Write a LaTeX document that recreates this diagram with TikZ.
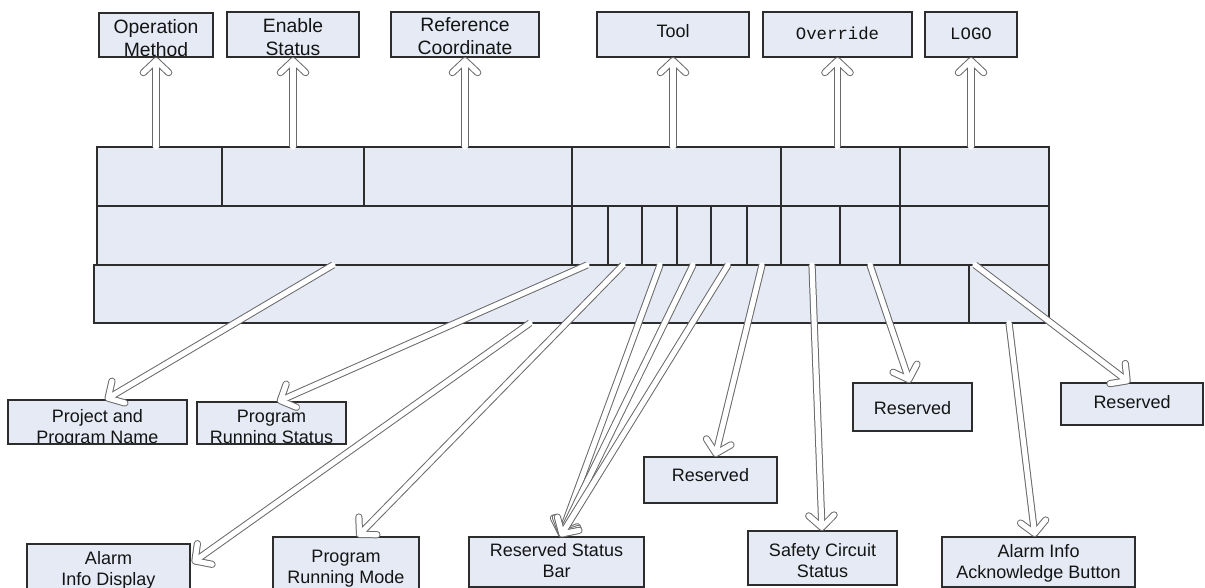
\documentclass[tikz,border=0pt]{standalone}
\usepackage{fontspec}
\setmainfont{Liberation Sans}
\newfontfamily\monof{Liberation Mono}
\usetikzlibrary{arrows.meta,calc}
\definecolor{boxfill}{RGB}{229,234,245}
\definecolor{edge}{RGB}{45,45,45}
\definecolor{arrgray}{RGB}{105,105,105}
\definecolor{txtc}{RGB}{20,20,20}
\newcommand\twol[2]{\vtop{\halign{\hfil##\hfil\cr#1\cr#2\cr}}}
\newcommand\bigtwol[2]{{\fontsize{14.5}{17}\selectfont\twol{#1}{#2}}}
\newcommand\mtext[1]{{\monof\fontsize{13}{15}\selectfont #1}}
\newcommand\bx[7]{%
  \node[box, anchor=north west,
    minimum width={(#4-#2)*0.75pt}, minimum height={(#5-#3)*0.75pt},
    path picture={\node[txt] (#1-t) at ($(path picture bounding box.north)+(0,#6)$) {#7};}]
    (#1) at (#2,#3) {};}
\tikzset{
  box/.style={draw=edge, fill=boxfill, line width=1.1pt, inner sep=0pt, outer sep=0pt},
  txt/.style={anchor=base, inner sep=0pt, outer sep=0pt, text=txtc, font=\fontsize{13.5}{16}\selectfont},
  barline/.style={draw=edge, line width=1pt},
  arr/.style={draw=white, line width=3.9pt, line cap=round,
    -{Straight Barb[length=9pt,width=19pt,round]}, shorten >=0.75pt,
    preaction={draw=arrgray, line width=5.4pt, shorten >=0pt}}
}
\begin{document}
\begin{tikzpicture}[x=0.75pt,y=-0.75pt]
\useasboundingbox (0,0) rectangle (1205,588);
% main bar
\fill[boxfill] (97,147) rectangle (1049,265);
\fill[boxfill] (94,265) rectangle (1049,323);
\draw[barline] (97,147) rectangle (1049,265);
\draw[barline] (94,265) rectangle (1049,323);
\draw[barline] (97,206) -- (1049,206);
\foreach \x in {222,364,572,781} \draw[barline] (\x,147) -- (\x,206);
\draw[draw=edge, line width=2pt] (900,147) -- (900,206);
\foreach \x in {572,608,642,677,711,747,781,840,900} \draw[barline] (\x,206) -- (\x,265);
\draw[barline] (969,265) -- (969,323);
\coordinate (bartop) at (97,147);
% top boxes
\bx{om}{99}{13}{213}{57}{21}{\bigtwol{Operation}{Method}}
\bx{es}{227}{12}{359}{57}{21}{\bigtwol{Enable}{Status}}
\bx{rc}{391}{12}{539}{57}{20}{\bigtwol{Reference}{Coordinate}}
\bx{tool}{597}{12}{749}{57}{26}{Tool}
\bx{ov}{763}{12}{912}{57}{28}{\mtext{Override}}
\bx{logo}{925}{12}{1017}{57}{28}{\mtext{LOGO}}
% bottom boxes
\bx{pn}{8}{400}{187}{444}{22}{\twol{Project and}{Program Name}}
\bx{prs}{197}{402}{346}{444}{20}{\twol{Program}{Running Status}}
\bx{aid}{27}{544}{190}{600}{20}{\twol{Alarm}{Info Display}}
\bx{prm}{273}{537}{419}{600}{25}{\twol{Program}{Running Mode}}
\bx{rsb}{469}{537}{644}{587}{19}{\twol{Reserved Status}{Bar}}
\bx{ra}{644}{457}{777}{503}{24}{Reserved}
\bx{scs}{748}{531}{897}{585}{25}{\twol{Safety Circuit}{Status}}
\bx{rb}{853}{383}{972}{431}{31}{Reserved}
\bx{rc2}{1061}{383}{1203}{425}{25}{Reserved}
\bx{aab}{942}{537}{1135}{587}{20}{\twol{Alarm Info}{Acknowledge Button}}
% start points on the bar
\coordinate (s1) at (333,265);
\coordinate (s2) at (587,265);
\coordinate (s3) at (530,323);
\coordinate (s4) at (623,265);
\coordinate (s5) at (660,265);
\coordinate (s6) at (693,265);
\coordinate (s7) at (728,265);
\coordinate (s8) at (762,265);
\coordinate (s9) at (812,265);
\coordinate (s10) at (870,265);
\coordinate (s11) at (975,265);
\coordinate (s12) at (1009,323);
% top arrows
\foreach \b in {om,es,rc,tool,ov,logo}
  \draw[arr] (\b.south |- bartop) -- (\b.south);
% bottom arrows
\draw[arr] (s1) -- ($(pn.north west)+(97,0)$);
\draw[arr] (s2) -- ($(prs.north west)+(80,0)$);
\draw[arr] (s3) -- ($(aid.north east)+(2,19)$);
\draw[arr] (s4) -- ($(prm.north west)+(84,0)$);
\draw[arr] (s5) -- ($(rsb.north west)+(91,0)$);
\draw[arr] (s6) -- ($(rsb.north west)+(91,0)$);
\draw[arr] (s7) -- ($(rsb.north west)+(91,0)$);
\draw[arr] (s8) -- ($(ra.north west)+(71,0)$);
\draw[arr] (s9) -- ($(scs.north west)+(74,0)$);
\draw[arr] (s10) -- ($(rb.north west)+(57,0)$);
\draw[arr] (s11) -- ($(rc2.north west)+(69,0)$);
\draw[arr] (s12) -- ($(aab.north west)+(93,0)$);
\end{tikzpicture}
\end{document}
